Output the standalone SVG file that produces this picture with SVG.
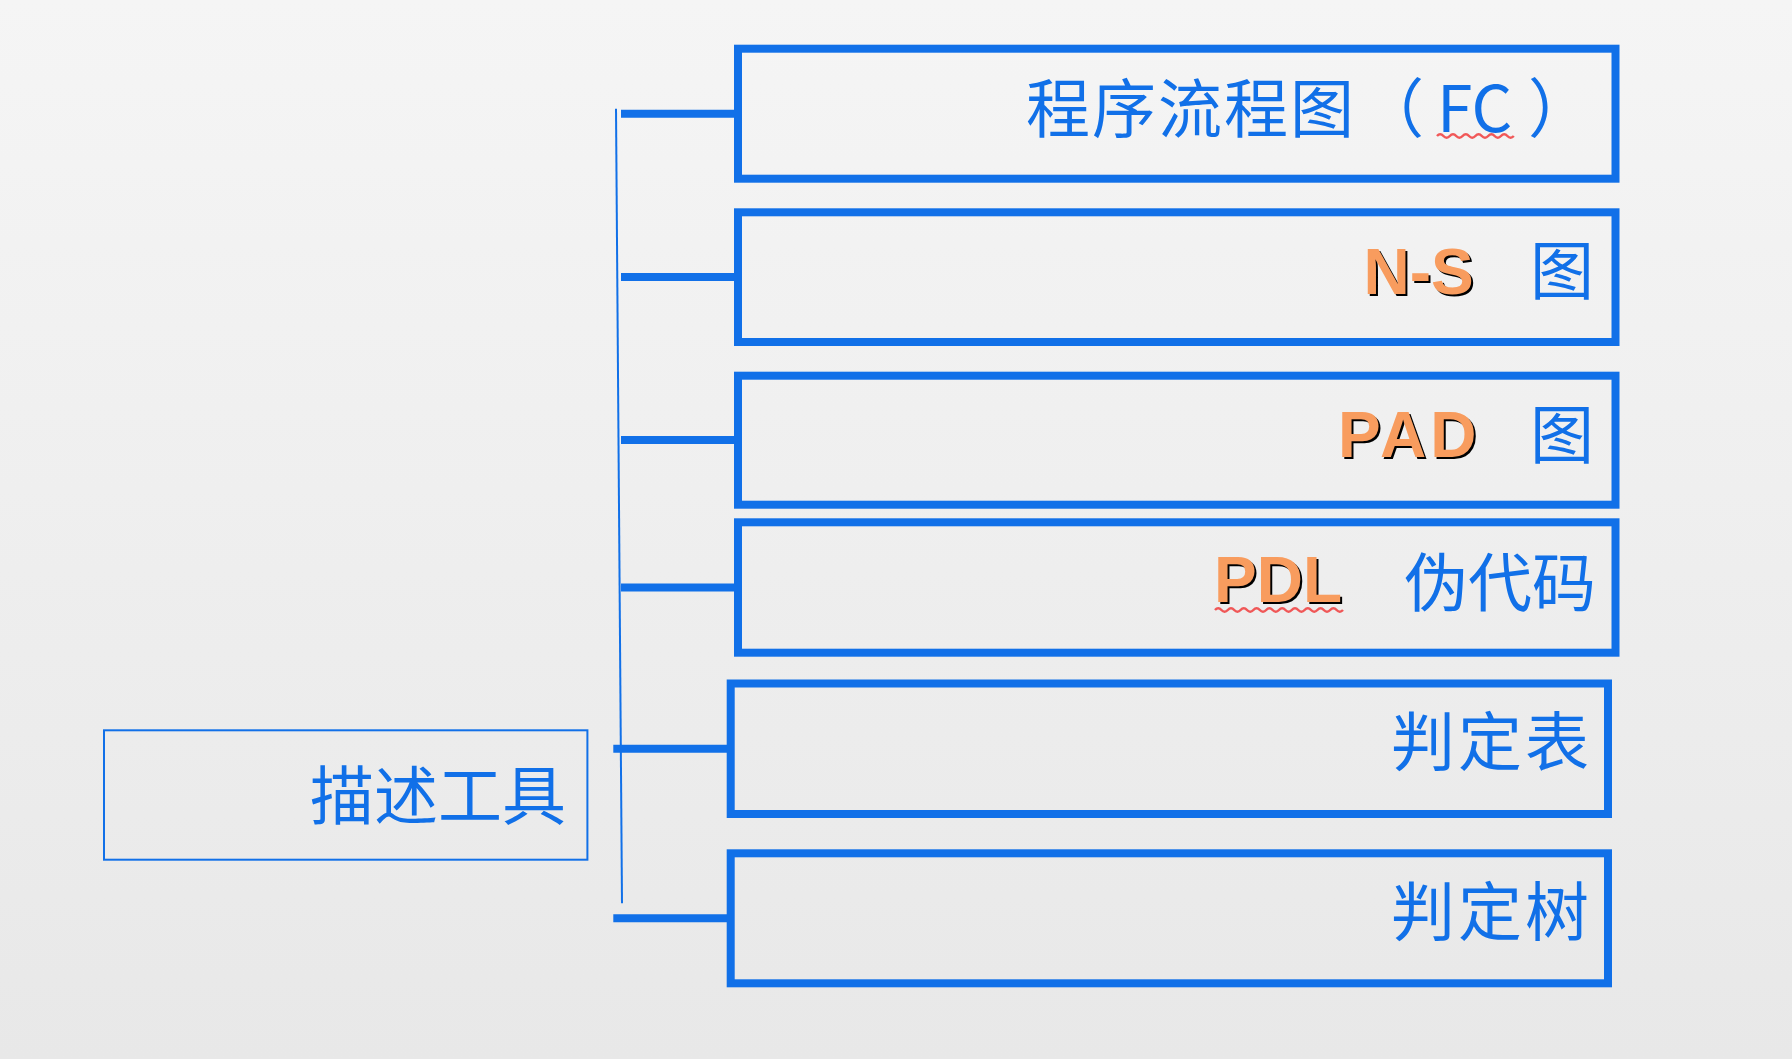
<svg xmlns="http://www.w3.org/2000/svg" width="1792" height="1059" viewBox="0 0 1792 1059">
  <defs>
    <linearGradient id="bg" x1="0" y1="0" x2="0" y2="1">
      <stop offset="0" stop-color="#f5f5f5"/>
      <stop offset="1" stop-color="#e8e8e8"/>
    </linearGradient>
  </defs>
  <style>
    .box { fill: none; stroke: #1170e8; stroke-width: 8; }
    .thin { fill: none; stroke: #1170e8; stroke-width: 2; }
    .conn { stroke: #1170e8; stroke-width: 8; fill: none; }
    .cjk { font-family: "Noto Sans CJK SC", "Noto Sans", sans-serif; font-size: 64px; fill: #1170e8; }
    .lat { font-family: "Liberation Sans", Arial, sans-serif; font-size: 64px; font-weight: bold; }
    .or { fill: #f89c5e; }
    .sh { fill: #000; }
    .wave { fill: none; stroke: #f03c3c; stroke-width: 2.5; opacity: 0.85; }
  </style>
  <rect x="0" y="0" width="1792" height="1059" fill="url(#bg)"/>

  <g id="connectors">
    <line class="thin" x1="616" y1="108.7" x2="622" y2="903.3"/>
    <line class="conn" x1="621" y1="113.7" x2="738" y2="113.7"/>
    <line class="conn" x1="621" y1="277" x2="738" y2="277"/>
    <line class="conn" x1="621" y1="440.1" x2="738" y2="440.1"/>
    <line class="conn" x1="621" y1="587.5" x2="738" y2="587.5"/>
    <line class="conn" x1="613.3" y1="748.7" x2="731" y2="748.7"/>
    <line class="conn" x1="613.3" y1="918.3" x2="731" y2="918.3"/>
  </g>

  <g id="node-root">
    <rect class="thin" x="104" y="730.3" width="483.4" height="129.4"/>
    <text class="cjk" x="566" y="819" text-anchor="end">描述工具</text>
  </g>

  <g id="node-fc">
    <rect class="box" x="738" y="48.7" width="877.5" height="130"/>
    <text class="cjk" y="132"><tspan x="1026" letter-spacing="2">程序流程图</tspan><tspan x="1360">（</tspan><tspan x="1437">FC</tspan><tspan x="1528">）</tspan></text>
    <path class="wave" d="M1437 136 q3.2 -3.5 6.4 0 t6.4 0 t6.4 0 t6.4 0 t6.4 0 t6.4 0 t6.4 0 t6.4 0 t6.4 0 t6.4 0 t6.4 0 t6.4 0"/>
  </g>

  <g id="node-ns">
    <rect class="box" x="738" y="212.3" width="877.5" height="129.7"/>
    <text class="lat sh" x="1365.5" y="296">N-S</text>
    <text class="lat or" x="1363.5" y="294">N-S</text>
    <text class="cjk" x="1594" y="294" text-anchor="end">图</text>
  </g>

  <g id="node-pad">
    <rect class="box" x="738" y="375.7" width="877.5" height="129"/>
    <text class="lat sh" x="1340" y="459" letter-spacing="4">PAD</text>
    <text class="lat or" x="1338" y="457" letter-spacing="4">PAD</text>
    <text class="cjk" x="1594" y="458" text-anchor="end">图</text>
  </g>

  <g id="node-pdl">
    <rect class="box" x="738" y="522.3" width="877.5" height="130.4"/>
    <text class="lat sh" x="1216" y="604">PDL</text>
    <text class="lat or" x="1214" y="602">PDL</text>
    <path class="wave" d="M1215 610 q3.2 -3.5 6.4 0 t6.4 0 t6.4 0 t6.4 0 t6.4 0 t6.4 0 t6.4 0 t6.4 0 t6.4 0 t6.4 0 t6.4 0 t6.4 0 t6.4 0 t6.4 0 t6.4 0 t6.4 0 t6.4 0 t6.4 0 t6.4 0 t6.4 0"/>
    <text class="cjk" x="1596" y="606" text-anchor="end">伪代码</text>
  </g>

  <g id="node-table">
    <rect class="box" x="730.7" y="683.5" width="877.3" height="130.5"/>
    <text class="cjk" x="1592" y="765" text-anchor="end" letter-spacing="3">判定表</text>
  </g>

  <g id="node-tree">
    <rect class="box" x="730.7" y="853.3" width="877.3" height="130"/>
    <text class="cjk" x="1592" y="935" text-anchor="end" letter-spacing="3">判定树</text>
  </g>
</svg>
